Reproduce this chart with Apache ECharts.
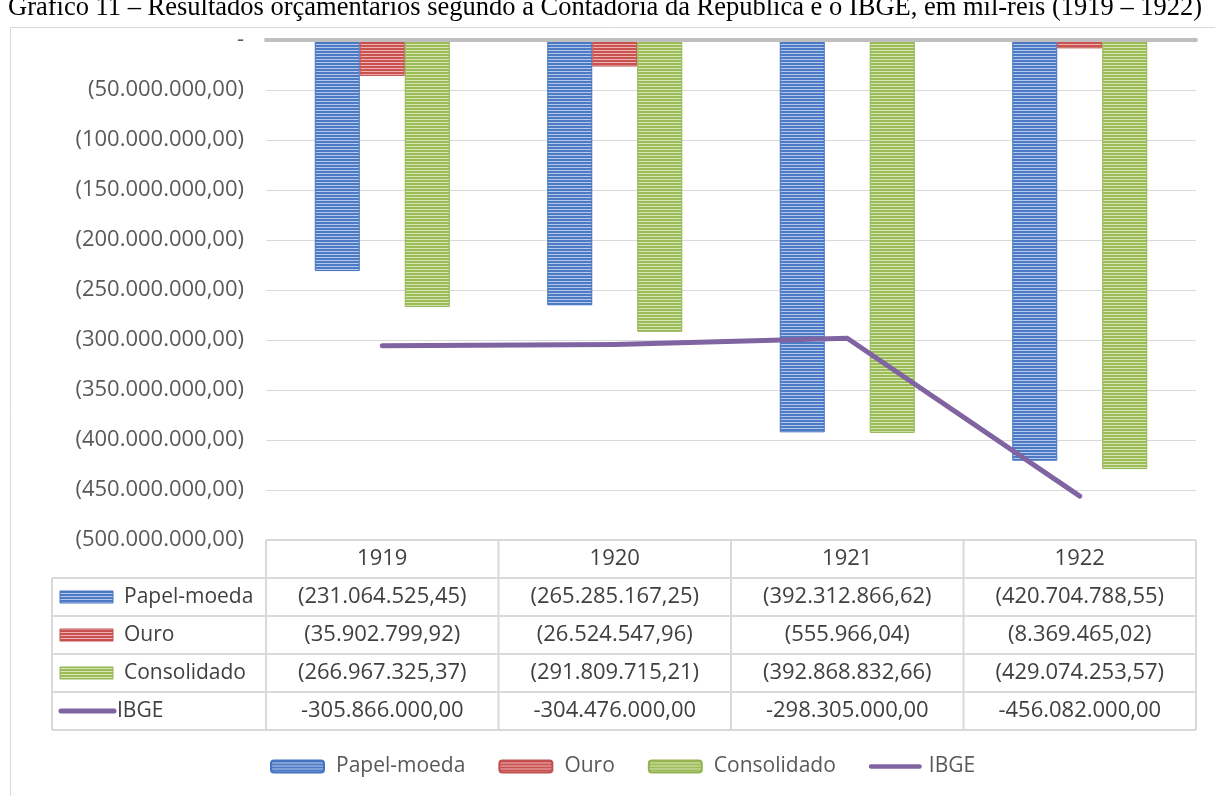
<!DOCTYPE html>
<html>
<head>
<meta charset="utf-8">
<script src="https://cdn.jsdelivr.net/npm/echarts@6/dist/echarts.min.js"></script>
<style>
  html, body { margin: 0; padding: 0; background: #fff; }
  #chart { width: 1215px; height: 796px; }
</style>
</head>
<body>
<div id="chart"></div>
<script>
// Budget results (mil-réis), 1919–1922
const years = ['1919', '1920', '1921', '1922'];
const papelMoeda = [-231064525.45, -265285167.25, -392312866.62, -420704788.55];
const ouro = [-35902799.92, -26524547.96, -555966.04, -8369465.02];
const consolidado = [-266967325.37, -291809715.21, -392868832.66, -429074253.57];
const ibge = [-305866000.00, -304476000.00, -298305000.00, -456082000.00];
const seriesNames = ['Papel-moeda', 'Ouro', 'Consolidado', 'IBGE'];

const titleText = 'Gráfico 11 – Resultados orçamentários segundo a Contadoria da República e o IBGE, em mil-réis (1919 – 1922)';

const FONT = '"Open Sans", "Noto Sans", sans-serif';
const FS_TEXT = 21;   // names
const FS_NUM = 22;    // numbers

// horizontal-line hatch fill, as in spreadsheet pattern fills
function stripes(dark, light) {
  const c = document.createElement('canvas');
  c.width = 4; c.height = 3;
  const ctx = c.getContext('2d');
  ctx.fillStyle = dark; ctx.fillRect(0, 0, 4, 2);
  ctx.fillStyle = light; ctx.fillRect(0, 2, 4, 1);
  return { image: c, repeat: 'repeat' };
}
const fills = {
  'Papel-moeda': { pat: stripes('#4D7AC4', '#B4C8EA'), edge: '#4472C4' },
  'Ouro': { pat: stripes('#C9514F', '#EBB4B3'), edge: '#C0504D' },
  'Consolidado': { pat: stripes('#9CBC58', '#D6E6B6'), edge: '#93B352' }
};
const lineColor = '#8064A2';

function grouped(v) {
  const s = Math.abs(v).toFixed(2);
  const parts = s.split('.');
  return parts[0].replace(/\B(?=(\d{3})+(?!\d))/g, '.') + ',' + parts[1];
}
const paren = v => '(' + grouped(v) + ')';
const signed = v => (v < 0 ? '-' : '') + grouped(v);

const chart = echarts.init(document.getElementById('chart'), null, { renderer: 'canvas' });

function barSeries(name, data) {
  return {
    name, type: 'bar', data,
    barWidth: 45, barGap: '0%',
    itemStyle: { color: fills[name].pat, borderColor: fills[name].edge, borderWidth: 1 },
    emphasis: { disabled: true }
  };
}

chart.setOption({
  animation: false,
  textStyle: { fontFamily: FONT },
  grid: { left: 266, right: 19, top: 40, bottom: 256, containLabel: false },
  xAxis: {
    type: 'category', data: years, z: 3,
    axisLine: { show: true, onZero: true, lineStyle: { color: '#BFBFBF', width: 4 } },
    axisTick: { show: false },
    axisLabel: { show: false },
    splitLine: { show: false }
  },
  yAxis: {
    type: 'value', min: -500000000, max: 0, interval: 50000000,
    axisLine: { show: false }, axisTick: { show: false },
    splitLine: { lineStyle: { color: '#D9D9D9', width: 1 } },
    axisLabel: {
      margin: 22, fontSize: FS_NUM, color: '#595959', fontFamily: FONT,
      formatter: v => (v === 0 ? '-' : paren(v))
    }
  },
  legend: {
    left: 270, top: 756, padding: 0,
    itemWidth: 53, itemHeight: 12, itemGap: 33,
    textStyle: { fontSize: FS_TEXT, color: '#595959', fontFamily: FONT, padding: [0, 0, 0, 7] },
    data: [
      { name: 'Papel-moeda' }, { name: 'Ouro' }, { name: 'Consolidado' },
      { name: 'IBGE', icon: 'path://M2.5,0 L55.5,0 A2.5,2.5 0 0 1 55.5,5 L2.5,5 A2.5,2.5 0 0 1 2.5,0 Z',
        itemStyle: { color: lineColor, borderWidth: 0 }, textStyle: { padding: [0, 0, 0, 2] } }
    ]
  },
  series: [
    barSeries('Papel-moeda', papelMoeda),
    barSeries('Ouro', ouro),
    barSeries('Consolidado', consolidado),
    {
      name: 'IBGE', type: 'line', data: ibge, z: 5,
      symbol: 'none', showSymbol: false,
      lineStyle: { color: lineColor, width: 5, cap: 'round', join: 'round' },
      itemStyle: { color: lineColor },
      emphasis: { disabled: true }
    }
  ]
});

// data table under the plot, aligned to the category columns
const colX = years.map(y => chart.convertToPixel({ xAxisIndex: 0 }, y));
const plotRect = chart.getModel().getComponent('grid').coordinateSystem.getRect();
const plotL = plotRect.x, plotR = plotRect.x + plotRect.width, plotB = plotRect.y + plotRect.height;
const colW = plotRect.width / years.length;
const rowH = 38;
const labelLeft = 52;
const rowsTop = plotB + rowH;
const tableRows = [
  { name: 'Papel-moeda', vals: papelMoeda.map(paren) },
  { name: 'Ouro', vals: ouro.map(paren) },
  { name: 'Consolidado', vals: consolidado.map(paren) },
  { name: 'IBGE', vals: ibge.map(signed) }
];
const tableB = rowsTop + rowH * tableRows.length;
const ruleStyle = { stroke: '#D9D9D9', lineWidth: 2 };
const els = [];

// outer frame of the chart area
els.push({ type: 'rect', shape: { x: 10.5, y: 27.5, width: 1300, height: 900 },
  style: { fill: null, stroke: '#D9D9D9', lineWidth: 1 }, silent: true, z: -10 });

// title line
els.push({ type: 'text', x: 8, y: 8, silent: true,
  style: { text: titleText, font: '26.5px "Liberation Serif", "Times New Roman", serif',
    fill: '#000', align: 'left', verticalAlign: 'middle' } });

// table rules
els.push({ type: 'line', shape: { x1: plotL, y1: plotB, x2: plotR, y2: plotB }, style: ruleStyle, silent: true });
for (let r = 0; r <= tableRows.length; r++) {
  const y = rowsTop + r * rowH;
  els.push({ type: 'line', shape: { x1: labelLeft, y1: y, x2: plotR, y2: y }, style: ruleStyle, silent: true });
}
for (let c = 0; c <= years.length; c++) {
  const x = plotL + c * colW;
  els.push({ type: 'line', shape: { x1: x, y1: plotB, x2: x, y2: tableB }, style: ruleStyle, silent: true });
}
els.push({ type: 'line', shape: { x1: labelLeft, y1: rowsTop, x2: labelLeft, y2: tableB }, style: ruleStyle, silent: true });

const nameFont = FS_TEXT + 'px ' + FONT;
const numFont = FS_NUM + 'px ' + FONT;
// header row: years
years.forEach((y, i) => {
  els.push({ type: 'text', x: colX[i], y: plotB + rowH / 2, silent: true,
    style: { text: y, font: numFont, fill: '#404040', align: 'center', verticalAlign: 'middle' } });
});
// body rows: legend key, series name, values
tableRows.forEach((row, r) => {
  const cy = rowsTop + r * rowH + rowH / 2;
  if (row.name === 'IBGE') {
    els.push({ type: 'line', shape: { x1: 61, y1: cy, x2: 114, y2: cy }, silent: true,
      style: { stroke: lineColor, lineWidth: 5, lineCap: 'round' } });
    els.push({ type: 'text', x: 117, y: cy, silent: true,
      style: { text: row.name, font: nameFont, fill: '#404040', align: 'left', verticalAlign: 'middle' } });
  } else {
    els.push({ type: 'rect', shape: { x: 60, y: cy - 6, width: 53, height: 12 }, silent: true,
      style: { fill: fills[row.name].pat, stroke: fills[row.name].edge, lineWidth: 1 } });
    els.push({ type: 'text', x: 124, y: cy, silent: true,
      style: { text: row.name, font: nameFont, fill: '#404040', align: 'left', verticalAlign: 'middle' } });
  }
  row.vals.forEach((t, i) => {
    els.push({ type: 'text', x: colX[i], y: cy, silent: true,
      style: { text: t, font: numFont, fill: '#404040', align: 'center', verticalAlign: 'middle' } });
  });
});

chart.setOption({ graphic: { elements: els } });
</script>
</body>
</html>
